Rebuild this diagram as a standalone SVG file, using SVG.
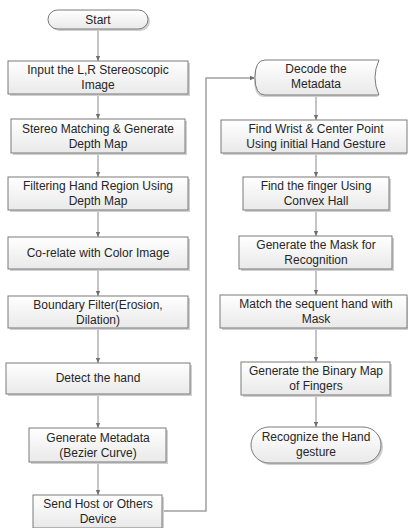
<svg xmlns="http://www.w3.org/2000/svg" width="408" height="528" viewBox="0 0 408 528">
<defs>
<linearGradient id="g" x1="0" y1="0" x2="0" y2="1">
<stop offset="0" stop-color="#ffffff"/>
<stop offset="1" stop-color="#e9e9e9"/>
</linearGradient>
<marker id="ah" markerWidth="6" markerHeight="6" refX="5" refY="3" orient="auto" markerUnits="userSpaceOnUse">
<path d="M0,0.8 L5,3 L0,5.2 Z" fill="#6f6f6f"/>
</marker>
</defs>
<style>
.b{fill:url(#g);stroke:#7a7a7a;stroke-width:1}
.s{fill:#d0d0d0;stroke:none}
.t{font-family:"Liberation Sans",Arial,sans-serif;font-size:12px;fill:#262626;text-anchor:middle}
.c{fill:none;stroke:#8a8a8a;stroke-width:1}
.c2{fill:none;stroke:#a0a0a0;stroke-width:1.5}
</style>
<rect width="408" height="528" fill="#ffffff"/>
<g id="connectors">
<line class="c" x1="98" y1="29" x2="98" y2="61" marker-end="url(#ah)"/>
<line class="c" x1="98" y1="94" x2="98" y2="119" marker-end="url(#ah)"/>
<line class="c" x1="98" y1="153" x2="98" y2="177" marker-end="url(#ah)"/>
<line class="c" x1="98" y1="210" x2="98" y2="237" marker-end="url(#ah)"/>
<line class="c" x1="98" y1="269" x2="98" y2="296" marker-end="url(#ah)"/>
<line class="c" x1="98" y1="328" x2="98" y2="363" marker-end="url(#ah)"/>
<line class="c" x1="98" y1="394" x2="98" y2="428" marker-end="url(#ah)"/>
<line class="c" x1="98" y1="462" x2="98" y2="495" marker-end="url(#ah)"/>
<line class="c" x1="316" y1="95" x2="316" y2="120" marker-end="url(#ah)"/>
<line class="c" x1="316" y1="153" x2="316" y2="177" marker-end="url(#ah)"/>
<line class="c" x1="316" y1="210" x2="316" y2="236" marker-end="url(#ah)"/>
<line class="c" x1="316" y1="269" x2="316" y2="295" marker-end="url(#ah)"/>
<line class="c" x1="316" y1="328" x2="316" y2="362" marker-end="url(#ah)"/>
<line class="c" x1="316" y1="395" x2="316" y2="427" marker-end="url(#ah)"/>
<polyline class="c2" points="162,511 206,511 206,78 255,78" marker-end="url(#ah)"/>
</g>
<g id="start">
<rect class="s" x="50" y="12" width="100" height="19" rx="9.5"/>
<rect class="b" x="48" y="10" width="100" height="19" rx="9.5"/>
<text class="t" x="98" y="24">Start</text>
</g>
<g id="input">
<rect class="s" x="10" y="63" width="180" height="33"/>
<rect class="b" x="8" y="61" width="180" height="33"/>
<text class="t" x="98" y="74">Input the L,R Stereoscopic</text>
<text class="t" x="98" y="89">Image</text>
</g>
<g id="stereo">
<rect class="s" x="13" y="121" width="174" height="34"/>
<rect class="b" x="11" y="119" width="174" height="34"/>
<text class="t" x="98" y="133">Stereo Matching &amp; Generate</text>
<text class="t" x="98" y="148">Depth Map</text>
</g>
<g id="filtering">
<rect class="s" x="10" y="179" width="180" height="33"/>
<rect class="b" x="8" y="177" width="180" height="33"/>
<text class="t" x="98" y="190">Filtering Hand Region Using</text>
<text class="t" x="98" y="205">Depth Map</text>
</g>
<g id="corelate">
<rect class="s" x="10" y="239" width="180" height="32"/>
<rect class="b" x="8" y="237" width="180" height="32"/>
<text class="t" x="98" y="257">Co-relate with Color Image</text>
</g>
<g id="boundary">
<rect class="s" x="10" y="298" width="180" height="32"/>
<rect class="b" x="8" y="296" width="180" height="32"/>
<text class="t" x="98" y="309">Boundary Filter(Erosion,</text>
<text class="t" x="98" y="324">Dilation)</text>
</g>
<g id="detect">
<rect class="s" x="8" y="365" width="184" height="31"/>
<rect class="b" x="6" y="363" width="184" height="31"/>
<text class="t" x="98" y="382">Detect the hand</text>
</g>
<g id="metadata">
<rect class="s" x="31" y="430" width="137" height="34"/>
<rect class="b" x="29" y="428" width="137" height="34"/>
<text class="t" x="98" y="442">Generate Metadata</text>
<text class="t" x="98" y="457">(Bezier Curve)</text>
</g>
<g id="send">
<rect class="s" x="35" y="497" width="129" height="33"/>
<rect class="b" x="33" y="495" width="129" height="33"/>
<text class="t" x="98" y="508">Send Host or Others</text>
<text class="t" x="98" y="523">Device</text>
</g>
<g id="decode">
<path class="s" d="M264,62 L378,62 Q370,79.5 378,97 L264,97 Q254,97 254,79.5 Q254,62 264,62 Z"/>
<path class="b" d="M262,60 L376,60 Q368,77.5 376,95 L262,95 Q252,95 252,77.5 Q252,60 262,60 Z" transform="translate(3,0)"/>
<text class="t" x="316" y="73">Decode the</text>
<text class="t" x="316" y="88">Metadata</text>
</g>
<g id="wrist">
<rect class="s" x="223" y="122" width="184" height="33"/>
<rect class="b" x="221" y="120" width="186" height="33"/>
<text class="t" x="316" y="133">Find Wrist &amp; Center Point</text>
<text class="t" x="316" y="148">Using initial Hand Gesture</text>
</g>
<g id="finger">
<rect class="s" x="245" y="179" width="146" height="33"/>
<rect class="b" x="243" y="177" width="146" height="33"/>
<text class="t" x="316" y="190">Find the finger Using</text>
<text class="t" x="316" y="205">Convex Hall</text>
</g>
<g id="mask">
<rect class="s" x="241" y="238" width="153" height="33"/>
<rect class="b" x="239" y="236" width="153" height="33"/>
<text class="t" x="316" y="249">Generate the Mask for</text>
<text class="t" x="316" y="264">Recognition</text>
</g>
<g id="match">
<rect class="s" x="222" y="297" width="186" height="33"/>
<rect class="b" x="220" y="295" width="187" height="33"/>
<text class="t" x="316" y="308">Match the sequent hand with</text>
<text class="t" x="316" y="323">Mask</text>
</g>
<g id="binary">
<rect class="s" x="243" y="364" width="149" height="33"/>
<rect class="b" x="241" y="362" width="149" height="33"/>
<text class="t" x="316" y="375">Generate the Binary Map</text>
<text class="t" x="316" y="390">of Fingers</text>
</g>
<g id="recognize">
<rect class="s" x="253" y="429" width="130" height="36" rx="18"/>
<rect class="b" x="251" y="427" width="130" height="36" rx="18"/>
<text class="t" x="316" y="441">Recognize the Hand</text>
<text class="t" x="316" y="456">gesture</text>
</g>
</svg>
